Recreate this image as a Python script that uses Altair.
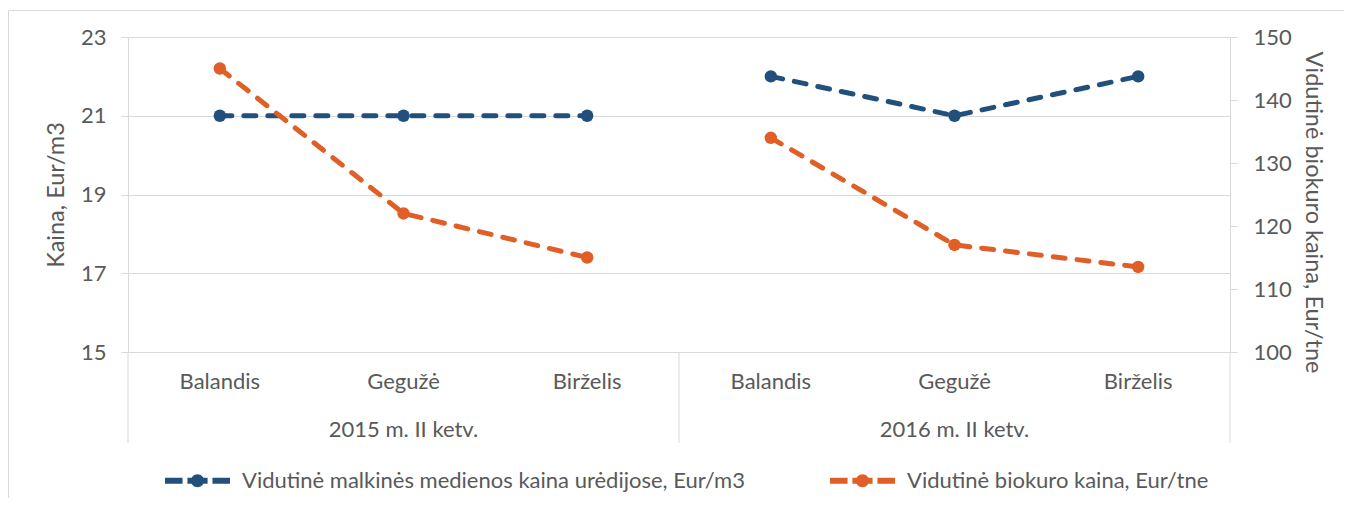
import altair as alt
import pandas as pd

# ---- data ----
months = ["Balandis", "Gegužė", "Birželis", "Balandis", "Gegužė", "Birželis"]
years = ["2015", "2015", "2015", "2016", "2016", "2016"]
group_labels = ["2015 m. II ketv.", "2016 m. II ketv."]
group_years = ["2015", "2016"]
wood_price = [21, 21, 21, 22, 21, 22]          # Eur/m3 (left axis)
bio_price = [145, 122, 115, 134, 117, 113.5]   # Eur/tne (right axis)
series_names = ["Vidutinė malkinės medienos kaina urėdijose, Eur/m3",
                "Vidutinė biokuro kaina, Eur/tne"]
left_ticks = [15, 17, 19, 21, 23]
right_ticks = [100, 110, 120, 130, 140, 150]

BLUE = "#22507D"
ORANGE = "#DF5F27"
GRID = "#D9D9D9"
TXT = "#595959"
FONT = "Lato"
FS = 22
TFS = 23.5

W, H = 1102, 315

keys = [f"{m}|{y}" for m, y in zip(months, years)]
df_wood = pd.DataFrame({"key": keys, "year": years, "value": wood_price, "series": series_names[0]})
df_bio = pd.DataFrame({"key": keys, "year": years, "value": bio_price, "series": series_names[1]})
df_groups = pd.DataFrame({"key": [f"Gegužė|{y}" for y in group_years], "label": group_labels})
df_sep_left = pd.DataFrame({"key": [keys[0], keys[3]]})
df_sep_right = pd.DataFrame({"key": [keys[5]]})

x_scale = alt.Scale(type="band", domain=keys, paddingInner=0, paddingOuter=0)
x_axis = alt.Axis(title=None, labelExpr="split(datum.value, '|')[0]", ticks=False, tickSize=0,
                  labelPadding=19, labelFont=FONT, labelFontSize=FS, labelColor=TXT,
                  domainColor=GRID, domainWidth=1, grid=False, labelAngle=0)


def xenc(band=0.5):
    return alt.X("key:N", scale=x_scale, axis=x_axis, sort=None, bandPosition=band)


legend_path = ("M-1,-0.092 H-0.46 V0.092 H-1 Z "
               "M-0.31,-0.092 H0.31 V0.092 H-0.31 Z "
               "M0.2,0 A0.2,0.2 0 1,1 -0.2,0 A0.2,0.2 0 1,1 0.2,0 Z "
               "M0.46,-0.092 H1 V0.092 H0.46 Z")

color = alt.Color("series:N",
                  scale=alt.Scale(domain=series_names, range=[BLUE, ORANGE]),
                  legend=alt.Legend(title=None, orient="none", legendX=37, legendY=411,
                                    direction="horizontal", symbolType=legend_path,
                                    symbolSize=4225, symbolStrokeWidth=0, symbolOpacity=1,
                                    labelFont=FONT, labelFontSize=FS, labelColor=TXT,
                                    labelLimit=0,
                                    labelOffset=12, columnPadding=85, padding=0))

y_left = alt.Y("value:Q",
               scale=alt.Scale(domain=[15, 23], nice=False, zero=False),
               axis=alt.Axis(orient="left", values=left_ticks, title="Kaina, Eur/m3",
                             grid=True, gridColor=GRID, gridWidth=1,
                             domainColor=GRID, tickColor=GRID, tickSize=7,
                             labelPadding=15, labelFont=FONT, labelFontSize=FS, labelColor=TXT,
                             titleFont=FONT, titleFontSize=TFS, titleColor=TXT,
                             titleFontWeight="normal", titlePadding=12))

y_right = alt.Y("value:Q",
                scale=alt.Scale(domain=[100, 150], nice=False, zero=False),
                axis=alt.Axis(orient="right", values=right_ticks,
                              title="Vidutinė biokuro kaina, Eur/tne",
                              grid=False, domainColor=GRID, tickColor=GRID, tickSize=7,
                              labelPadding=16, labelFont=FONT, labelFontSize=FS, labelColor=TXT,
                              titleFont=FONT, titleFontSize=TFS, titleColor=TXT,
                              titleFontWeight="normal", titlePadding=9, titleY=175))

line_kw = dict(strokeWidth=5, strokeDash=[12, 12], strokeCap="round")

wood_line = alt.Chart(df_wood).mark_line(color=BLUE, **line_kw).encode(
    x=xenc(), y=y_left, detail="year:N")
wood_pts = alt.Chart(df_wood).mark_point(filled=True, size=155, opacity=1, strokeWidth=0).encode(
    x=xenc(), y=y_left, color=color)
left = alt.layer(wood_line, wood_pts)

bio_line = alt.Chart(df_bio).mark_line(color=ORANGE, **line_kw).encode(
    x=xenc(), y=y_right, detail="year:N")
bio_pts = alt.Chart(df_bio).mark_point(filled=True, size=155, opacity=1, strokeWidth=0).encode(
    x=xenc(), y=y_right, color=color)
right = alt.layer(bio_line, bio_pts)

sep_l = alt.Chart(df_sep_left).mark_rule(color=GRID, strokeWidth=1).encode(
    x=xenc(0), y=alt.value(H), y2=alt.value(H + 91))
sep_r = alt.Chart(df_sep_right).mark_rule(color=GRID, strokeWidth=1).encode(
    x=xenc(1), y=alt.value(H), y2=alt.value(H + 91))
grp = alt.Chart(df_groups).mark_text(font=FONT, fontSize=FS, color=TXT, baseline="middle").encode(
    x=xenc(), y=alt.value(H + 78), text="label:N")

border = alt.Chart(pd.DataFrame({"a": [0]})).mark_rect(fill=None, stroke=GRID, strokeWidth=1).encode(
    x=alt.value(-119.5), x2=alt.value(W + 300), y=alt.value(-26.5), y2=alt.value(H + 400))

chart = alt.layer(border, sep_l, sep_r, grp, left, right).resolve_scale(y="independent").properties(
    width=W, height=H,
    padding={"left": 120, "top": 29, "right": 114, "bottom": 146},
    autosize=alt.AutoSizeParams(type="none"),
    background="white",
).configure_view(stroke=None)

chart.save("out.html", embed_options={"renderer": "svg", "actions": False})
